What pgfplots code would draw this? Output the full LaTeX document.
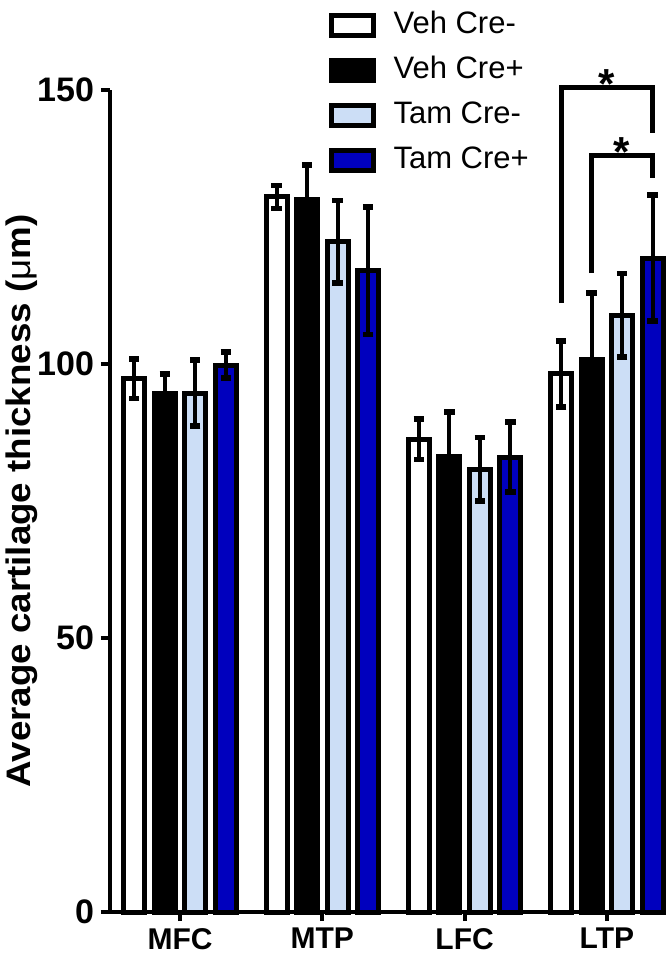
\documentclass[border=0pt]{standalone}
\usepackage{pgfplots}
\pgfplotsset{compat=1.18}
\usepackage{fontspec}
\setmainfont{Liberation Sans}
\definecolor{lightb}{RGB}{204,222,246}
\definecolor{darkb}{RGB}{0,0,190}
\begin{document}
\begin{tikzpicture}
\begin{axis}[
  scale only axis, width=277.5pt, height=411pt,
  xmin=-0.492, xmax=3.408, ymin=0, ymax=150,
  axis lines=left,
  axis line style={-, line width=2pt},
  ybar=4.75pt, bar width=10.5pt,
  xtick={0,1,2,3}, xticklabels={MFC,MTP,LFC,LTP},
  ytick={0,50,100,150},
  tick align=outside, major tick length=4.5pt,
  tick style={line width=2pt, black},
  /pgf/number format/assume math mode=true,
  ticklabel style={font=\bfseries\fontsize{15}{18}\selectfont},
  yticklabel style={font=\bfseries\fontsize{17}{18}\selectfont},
  ylabel={\scalebox{1.08}[1]{Average cartilage thickness ({\mdseries μ}m)}},
  ylabel style={at={(axis description cs:-0.159,0.5)}, anchor=center, font=\bfseries\fontsize{17}{20}\selectfont},
  clip=false,
  every axis plot/.append style={draw=black, line width=2.5pt},
  error bars/y dir=both, error bars/y explicit,
  error bars/error bar style={line width=2pt, black},
  error bars/error mark options={rotate=90, line width=2.8pt, mark size=2.6pt, black},
  legend image code/.code={\draw[#1, line width=2.5pt] (0pt,-5pt) rectangle (21pt,5pt);},
  legend style={at={(rel axis cs:0.394,1.095)}, anchor=north west, draw=none, fill=none,
    font=\fontsize{15.5}{17}\selectfont, row sep=9pt, column sep=8.75pt, inner sep=0pt,
    nodes={inner sep=0pt, text height=10.5pt, text depth=3pt}},
  legend cell align=left,
]
\addplot[fill=white] coordinates {(0,97.3) +- (0,3.6) (1,130.5) +- (0,2.1) (2,86.3) +- (0,3.7) (3,98.2) +- (0,6.0)};
\addplot[fill=black] coordinates {(0,94.7) +- (0,3.5) (1,130.1) +- (0,6.2) (2,83.2) +- (0,8.0) (3,100.9) +- (0,12.1)};
\addplot[fill=lightb] coordinates {(0,94.7) +- (0,6.0) (1,122.3) +- (0,7.5) (2,80.8) +- (0,5.8) (3,108.9) +- (0,7.6)};
\addplot[fill=darkb] coordinates {(0,99.8) +- (0,2.4) (1,117.0) +- (0,11.6) (2,83.0) +- (0,6.4) (3,119.3) +- (0,11.5)};
\legend{Veh Cre-,Veh Cre+,Tam Cre-,Tam Cre+}
\draw[line width=2.5pt, line join=miter] (axis cs:2.6786,111.1) -- (axis cs:2.6786,150.4) -- (axis cs:3.3214,150.4) -- (axis cs:3.3214,142.2);
\draw[line width=2.5pt, line join=miter] (axis cs:2.893,116.6) -- (axis cs:2.893,138.1) -- (axis cs:3.3214,138.1) -- (axis cs:3.3214,133.9);
\node[anchor=base, inner sep=0pt] at (axis cs:3.0,148.4) {\bfseries\fontsize{21}{21}\selectfont *};
\node[anchor=base, inner sep=0pt] at (axis cs:3.107,136.1) {\bfseries\fontsize{21}{21}\selectfont *};
\end{axis}
\pgfresetboundingbox
\useasboundingbox (-55pt,-23pt) rectangle (277.5pt,456pt);
\end{tikzpicture}
\end{document}
